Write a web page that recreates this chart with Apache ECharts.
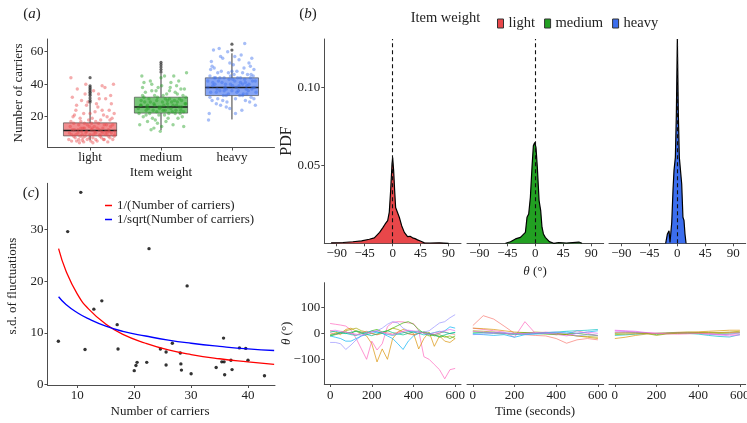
<!DOCTYPE html>
<html>
<head>
<meta charset="UTF-8">
<title>Item weight, carriers and angle fluctuations</title>
<script src="https://cdn.jsdelivr.net/npm/echarts@6/dist/echarts.min.js"></script>
<style>
    html, body { margin: 0; padding: 0; background: #fff; }
    #chart { width: 747px; height: 423px; }
</style>
</head>
<body>
<div id="chart"></div>
<script>
// ---- (a) number of carriers per item weight ----
const weights = ['light', 'medium', 'heavy'];
const weightColors = ['#E8474A', '#22A022', '#3C6EEE'];
const boxLow  = [5.5, 11.7, 18.3];
const boxQ1   = [8.2, 22.2, 33];
const boxMed  = [11.5, 26, 38];
const boxQ3   = [16.2, 32, 43.9];
const boxHigh = [28.2, 46.7, 59];
const lightOut  = [29, 30, 31.5, 33, 34, 35, 36, 37, 38, 39, 44];
const mediumOut = [47.5, 49, 50.5, 52, 53.4];
const heavyOut  = [61, 64.6];
const lightPts = [[0.70,6],[0.74,9],[0.78,12],[0.81,5],[0.84,15],[0.86,8],[0.88,11],[0.90,7],[0.92,13],[0.94,10],
    [0.96,6],[0.98,18],[1.00,9],[1.02,12],[1.04,7],[1.06,14],[1.08,10],[1.10,5],[1.12,16],[1.14,8],[1.16,11],
    [1.18,13],[1.20,6],[1.22,9],[1.24,20],[1.26,12],[1.28,7],[1.30,10],[1.32,15],[1.34,8],[0.72,14],[0.76,20],
    [0.80,24],[0.83,10],[0.87,17],[0.91,22],[0.95,27],[0.99,14],[1.03,19],[1.07,23],[1.11,26],[1.15,18],[1.19,21],
    [1.23,15],[1.27,24],[1.31,19],[1.35,11],[0.75,32],[0.82,37],[0.88,30],[0.93,34],[1.05,36],[1.13,31],[1.21,38],
    [1.29,33],[0.73,44],[1.33,40],[0.97,29],[1.09,28],[1.17,39],[0.85,4],[1.01,5],[1.25,4.5],[0.79,7],[1.19,6],
    [0.90,13],[1.06,11],[1.14,9],[0.96,15],[1.24,10],[0.77,8],[0.89,9],[1.03,13],[1.27,11],[0.83,12],
    [0.71,10],[0.74,5],[0.77,16],[0.80,9],[0.84,6],[0.87,13],[0.91,4.5],[0.93,8],[0.95,11],[0.99,7],[1.02,16],
    [1.05,9],[1.08,6],[1.10,13],[1.13,12],[1.16,7],[1.20,15],[1.22,11],[1.26,8],[1.29,14],[1.32,6],[1.35,9],
    [0.73,17],[0.78,21],[0.86,19],[0.92,16],[1.00,22],[1.08,17],[1.17,24],[1.28,18],[1.34,22],[0.81,27],[1.12,34],
    [1.30,28],[0.94,40],[1.22,31],[0.89,5.5],[1.04,4],[1.18,10],[0.75,12]];
const mediumPts = [[1.68,25],[1.72,30],[1.75,20],[1.78,35],[1.81,27],[1.84,22],[1.87,40],[1.90,28],[1.92,18],[1.95,32],
    [1.98,25],[2.00,44],[2.02,29],[2.05,21],[2.08,34],[2.10,26],[2.13,38],[2.16,23],[2.19,30],[2.22,27],[2.25,42],
    [2.28,24],[2.31,33],[2.34,28],[2.36,47],[1.70,15],[1.74,38],[1.79,24],[1.83,31],[1.88,19],[1.93,36],[1.97,26],
    [2.01,14],[2.06,31],[2.11,22],[2.15,29],[2.20,35],[2.24,19],[2.29,26],[2.33,37],[1.73,45],[1.86,12],[1.99,11],
    [2.07,17],[2.18,45],[2.30,20],[1.77,29],[1.91,33],[2.04,27],[2.12,36],[2.26,31],[1.80,26],[1.94,23],[2.09,30],
    [2.21,24],[2.35,28],[1.85,42],[2.17,15],[1.96,38],[2.27,22],[1.71,27],[2.03,24],[2.23,29],
    [1.69,22],[1.72,27],[1.76,32],[1.79,21],[1.82,25],[1.85,29],[1.89,24],[1.91,27],[1.94,30],[1.97,21],[2.00,26],
    [2.03,33],[2.06,24],[2.09,28],[2.12,31],[2.14,25],[2.17,27],[2.20,22],[2.23,34],[2.26,26],[2.29,30],[2.32,23],
    [2.35,32],[1.74,33],[1.87,36],[2.01,39],[2.14,41],[2.28,37],[1.81,17],[2.10,19],[2.32,14],[1.95,16],[1.76,41],
    [2.22,39],[2.05,45],[1.90,13]];
const heavyPts = [[2.66,38],[2.69,45],[2.72,30],[2.75,50],[2.78,35],[2.81,42],[2.84,27],[2.87,56],[2.90,38],[2.92,33],
    [2.95,47],[2.98,40],[3.00,36],[3.02,52],[3.05,31],[3.08,44],[3.10,39],[3.13,58],[3.16,34],[3.19,41],[3.22,46],
    [3.25,29],[3.28,37],[3.31,49],[3.34,35],[2.68,22],[2.71,54],[2.76,40],[2.80,31],[2.85,48],[2.89,36],[2.94,60],
    [2.97,25],[3.01,43],[3.06,38],[3.11,33],[3.15,47],[3.20,37],[3.24,53],[3.29,42],[3.33,27],[2.67,18],[2.74,61],
    [2.83,44],[2.91,40],[3.04,57],[3.14,24],[3.21,39],[3.30,45],[2.79,37],[2.88,33],[2.96,43],[3.07,35],[3.17,50],
    [3.27,32],[2.73,41],[2.93,29],[3.03,46],[3.12,41],[3.23,36],[3.32,38],[3.18,65],[2.70,49],[3.26,44],
    [2.66,42],[2.70,35],[2.73,39],[2.77,44],[2.80,47],[2.83,36],[2.86,41],[2.89,44],[2.92,37],[2.95,34],[2.98,45],
    [3.01,39],[3.04,42],[3.07,48],[3.09,36],[3.12,44],[3.15,40],[3.18,43],[3.21,34],[3.24,40],[3.27,46],[3.30,38],
    [3.33,42],[2.72,51],[2.84,57],[2.97,53],[3.10,55],[3.26,51],[2.78,28],[2.92,26],[3.05,22],[3.19,30],[3.31,31],
    [2.69,32],[2.87,30],[3.15,33],[2.82,62],[3.28,56],[3.00,48],[2.75,44]];

// ---- (c) s.d. of fluctuations vs number of carriers ----
const carriers = [6.66, 8.3, 10.6, 11.35, 12.9, 14.3, 17.0, 17.15, 20.0, 20.3, 20.5, 22.2, 22.6, 24.6, 25.6, 25.6, 26.7,
    28.1, 28.2, 28.3, 29.3, 30.0, 34.4, 35.4, 35.8, 35.7, 35.9, 37.0, 37.2, 38.5, 39.6, 40.0, 42.9];
const sdFluct = [8.4, 29.6, 37.2, 6.8, 14.6, 16.2, 11.6, 6.9, 2.7, 3.7, 4.3, 4.3, 26.3, 6.9, 6.3, 3.8, 8.0,
    6.1, 4.0, 2.8, 19.1, 2.1, 3.3, 4.4, 4.4, 9.0, 1.9, 4.7, 2.9, 7.1, 7.0, 4.7, 1.7];
const curveN       = [6.7, 8, 10, 12, 15, 18, 22, 26, 30, 35, 40, 44.6];
const curveInv     = [26.3, 22.0, 17.5, 14.6, 11.7, 9.7, 8.0, 6.7, 5.8, 5.0, 4.4, 3.9];
const curveInvSqrt = [17.0, 15.5, 13.9, 12.7, 11.3, 10.3, 9.4, 8.6, 8.0, 7.4, 6.9, 6.6];

// ---- (b) angle densities ----
const thetaLight = [-99, -80, -64, -50, -37.5, -29.5, -21, -16, -12, -8, -5.4, -3.2, -1, 0, 1.6, 3.2, 4.8, 6.5, 8,
    10.7, 14.5, 18.8, 24, 28, 32, 36, 40, 45.5, 51, 60, 75, 90];
const pdfLight = [0.0003, 0.0005, 0.001, 0.0015, 0.0026, 0.0035, 0.007, 0.0099, 0.0124, 0.0146, 0.02, 0.034, 0.051,
    0.055, 0.0466, 0.034, 0.023, 0.024, 0.022, 0.0167, 0.0113, 0.007, 0.0043, 0.0045, 0.0035, 0.003, 0.0022, 0.0013,
    0.0003, 0.0002, 0.0003, 0];
const thetaMedium = [-48, -40, -32, -24, -16, -13.4, -10.7, -8, -5.4, -3.2, -1, 1, 3.2, 6, 8.6, 10.7, 13, 16, 22.5,
    29.5, 37.5, 50, 70, 75];
const pdfMedium = [0, 0.001, 0.0028, 0.0038, 0.007, 0.0167, 0.0188, 0.0295, 0.0487, 0.0626, 0.0647, 0.0615, 0.0487,
    0.0274, 0.021, 0.0103, 0.006, 0.0038, 0.0011, 0, 0.0005, 0.0002, 0.0008, 0];
const thetaHeavy = [-18.8, -16, -13.4, -11.8, -9, -7, -5.4, -3.2, -1.6, 0, 1.6, 3.2, 5.4, 7, 9, 10.7, 12.3, 14];
const pdfHeavy = [0, 0.006, 0.008, 0.0006, 0.0135, 0.034, 0.0466, 0.0551, 0.083, 0.131, 0.083, 0.0551, 0.0551,
    0.038, 0.0167, 0.0146, 0.006, 0];

// ---- (b) angle time series ----
const timeFine = [0, 25, 50, 75, 100, 125, 150, 175, 200, 225, 250, 275, 300, 325, 350, 375, 400, 425, 450, 475,
    500, 525, 550, 575, 600];
const timeCoarse = [0, 50, 100, 150, 200, 250, 300, 350, 400, 450, 500, 550, 600];
const lightRuns = [
    ['#FF62BC', [38, 35, 32, 28, 13, -20, -60, -100, -30, -64, -40, 26, 42, 45, 44, 40, 38, 10, -90, -100, -120, -140, -175, -140, -135]],
    ['#D89000', [10, 5, -5, 15, 20, 8, 0, -10, -40, -110, -60, -100, -20, 5, 15, 10, 0, -60, -20, 5, -50, -10, -30, -35, -20]],
    ['#9590FF', [-35, -35, -40, -62, -45, -25, -10, 0, 5, 10, 20, 35, 45, 40, 20, 10, 5, 0, 5, 10, 25, 40, 45, 60, 72]],
    ['#00B0F6', [-10, -15, -20, -30, -30, -20, -10, -5, 0, 5, 0, -10, -20, -40, -62, -30, -10, 0, 5, 0, -5, 0, 10, 25, 20]],
    ['#39B600', [-10, -5, 0, 5, 0, 10, 5, 0, 10, 15, 5, 10, 20, 30, 40, 45, 35, 15, 0, -10, -5, -15, -10, -20, -10]],
    ['#A3A500', [-5, 0, 5, 10, 15, 20, 10, 5, 0, -5, 0, 10, 20, 15, 5, 0, -5, 0, 5, 0, -10, -5, -15, -10, -20]],
    ['#F8766D', [2, -4, 1, 6, -2, -7, 3, 8, -1, -6, 4, 2, -3, 5, 7, -2, -6, 1, 4, -3, -5, 2, 6, -1, -4]],
    ['#00BFC4', [5, 8, 3, 0, -5, -8, -2, 4, 9, 6, 0, -4, -8, -3, 2, 7, 5, 0, -6, -2, 3, 8, 4, -1, 3]],
    ['#00BF7D', [-8, -3, 2, -1, 4, 8, 2, -4, -9, -2, 5, 10, 3, -2, -6, 0, 6, 9, 2, -3, -8, -12, -6, 0, 4]],
    ['#E76BF3', [10, 12, 8, 5, 0, -3, -8, 0, 6, 10, 4, -2, -6, 0, 8, 12, 10, 6, 0, -4, 2, 6, 10, 15, 10]]
];
const mediumRuns = [
    ['#F8766D', [30, 68, 55, 28, 0, -5, -8, -10, -20, -38, -25, -20, -25]],
    ['#FF62BC', [20, 15, 10, 5, -15, 45, 0, 5, 0, -5, 10, 0, -10]],
    ['#D89000', [20, 18, 15, 10, 5, 3, 0, 0, -5, -5, -10, -15, -20]],
    ['#A3A500', [10, 8, 5, 0, -3, 0, 5, 3, 0, -5, -10, -12, -15]],
    ['#39B600', [5, 3, 0, -2, 0, 3, 0, -3, -5, -2, 0, -5, -8]],
    ['#00BFC4', [0, 2, 4, 0, -5, -2, 0, 3, 5, 8, 10, 12, 15]],
    ['#00B0F6', [-3, -5, -8, -5, -15, -5, -3, 0, 2, 5, 0, 5, 10]],
    ['#9590FF', [-5, -3, 0, 3, 0, -3, 0, 3, 5, 0, -10, -5, -8]],
    ['#E76BF3', [8, 5, 3, 0, -2, 0, 3, 0, -3, -10, 0, 5, 0]]
];
const heavyRuns = [
    ['#D89000', [-20, -15, -8, -3, 0, 2, 4, 5, 6, 8, 10, 12, 12]],
    ['#FF62BC', [10, 8, 5, 2, 0, -2, -3, -2, 0, -3, -5, -4, -2]],
    ['#00BFC4', [-8, -6, -3, -1, 0, 1, 2, 0, -3, -8, -12, -14, -5]],
    ['#39B600', [0, 2, 3, 1, -5, 0, 3, 4, 3, 2, 0, 1, 3]],
    ['#9590FF', [5, 6, 4, 2, -2, -1, 0, 1, 0, -4, -6, -3, 2]],
    ['#E76BF3', [12, 10, 8, 3, 0, -1, 0, 2, 3, 0, -5, -10, -6]],
    ['#F8766D', [3, 2, 1, 0, 0, 1, 2, 1, 0, 1, 2, 3, 5]],
    ['#A3A500', [-5, -3, -2, 0, -8, -2, 0, 2, 3, 4, 3, 5, 8]]
];

const FONT = '"Liberation Serif", "Times New Roman", serif';
const INK = '#222';
const AXIS = '#4d4d4d';
const minus = v => (v < 0 ? '\u2212' + Math.abs(v) : String(v));
const zip = (xs, ys) => xs.map((x, i) => [x, ys[i]]);

function axis(gi, min, max, ticks, fmt, visible, margin) {
    return {
        type: 'value', gridIndex: gi, min: min, max: max,
        splitLine: { show: false },
        axisLine: { show: visible, onZero: false, lineStyle: { color: AXIS, width: 1 } },
        axisTick: { show: visible, length: 3, customValues: ticks, lineStyle: { color: AXIS, width: 1 } },
        axisLabel: {
            show: visible, customValues: ticks, formatter: fmt, margin: margin || 4,
            fontFamily: FONT, fontSize: 13, color: INK
        }
    };
}

function label(text, x, y, size, vertical) {
    return {
        type: 'text', x: x, y: y, rotation: vertical ? Math.PI / 2 : 0,
        style: {
            text: text, fontFamily: FONT, fontSize: size, fill: INK,
            align: 'center', verticalAlign: 'middle', textAlign: 'center', textVerticalAlign: 'middle',
            rich: { i: { fontStyle: 'italic', fontFamily: FONT, fontSize: size, fill: INK } }
        }
    };
}

const facetLeft = [324.3, 467, 609];
const grids = [
    { left: 47.5, top: 39, width: 227, height: 108.5 },
    { left: 47.5, top: 183.3, width: 227.5, height: 201.7 }
];
facetLeft.forEach(l => grids.push({ left: l, top: 39, width: 136.7, height: 204.3 }));
facetLeft.forEach(l => grids.push({ left: l, top: 282.7, width: 136.7, height: 101.3 }));
grids.forEach(g => { g.containLabel = false; g.outerBoundsMode = 'none'; });

const xAxes = [
    axis(0, 0.4, 3.6, [1, 2, 3], v => weights[v - 1], true),
    axis(1, 4.75, 44.75, [10, 20, 30, 40], String, true)
];
const yAxes = [
    axis(0, 1.05, 67.8, [20, 40, 60], String, true),
    axis(1, -0.08, 38.95, [0, 10, 20, 30], String, true)
];
[2, 3, 4].forEach((gi, k) => {
    xAxes.push(axis(gi, -110, 110, [-90, -45, 0, 45, 90], minus, true));
    yAxes.push(axis(gi, 0, 0.131, [0.05, 0.10], v => v.toFixed(2), k === 0));
});
[5, 6, 7].forEach((gi, k) => {
    xAxes.push(axis(gi, -28, 628, [0, 200, 400, 600], String, true, 5));
    yAxes.push(axis(gi, -195, 195, [-100, 0, 100], minus, k === 0));
});

const series = [];

// (a) jittered points, boxes, outliers
[lightPts, mediumPts, heavyPts].forEach((pts, i) => {
    series.push({
        type: 'scatter', xAxisIndex: 0, yAxisIndex: 0, data: pts, symbolSize: 3.4, silent: true,
        itemStyle: { color: weightColors[i], opacity: 0.45 }
    });
});
series.push({
    type: 'custom', xAxisIndex: 0, yAxisIndex: 0, silent: true,
    data: weights.map((w, i) => [i + 1, boxLow[i], boxQ1[i], boxMed[i], boxQ3[i], boxHigh[i]]),
    renderItem: function (params, api) {
        const x = api.value(0);
        const lo = api.coord([x, api.value(1)]);
        const q1 = api.coord([x, api.value(2)]);
        const q3 = api.coord([x, api.value(4)]);
        const hi = api.coord([x, api.value(5)]);
        const tl = api.coord([x - 0.375, api.value(4)]);
        const br = api.coord([x + 0.375, api.value(2)]);
        const mL = api.coord([x - 0.375, api.value(3)]);
        const mR = api.coord([x + 0.375, api.value(3)]);
        const stroke = { stroke: '#3a3a3a', lineWidth: 1 };
        return {
            type: 'group', children: [
                { type: 'line', shape: { x1: hi[0], y1: hi[1], x2: q3[0], y2: q3[1] }, style: stroke },
                { type: 'line', shape: { x1: q1[0], y1: q1[1], x2: lo[0], y2: lo[1] }, style: stroke },
                {
                    type: 'rect', shape: { x: tl[0], y: tl[1], width: br[0] - tl[0], height: br[1] - tl[1] },
                    style: { fill: weightColors[params.dataIndex], opacity: 0.62, stroke: '#444', lineWidth: 1 }
                },
                { type: 'line', shape: { x1: mL[0], y1: mL[1], x2: mR[0], y2: mR[1] }, style: { stroke: '#1a1a1a', lineWidth: 1.6 } }
            ]
        };
    }
});
[lightOut, mediumOut, heavyOut].forEach((ys, i) => {
    series.push({
        type: 'scatter', xAxisIndex: 0, yAxisIndex: 0, silent: true, symbolSize: 3.2,
        data: ys.map(y => [i + 1, y]), itemStyle: { color: '#333', opacity: 0.75 }
    });
});

// (c) scatter and the two reference curves
series.push({
    type: 'scatter', xAxisIndex: 1, yAxisIndex: 1, silent: true, symbolSize: 3.4,
    data: zip(carriers, sdFluct), itemStyle: { color: '#000' }
});
series.push({
    type: 'line', name: '1/(Number of carriers)', xAxisIndex: 1, yAxisIndex: 1, smooth: true,
    symbol: 'none', data: zip(curveN, curveInv), lineStyle: { color: '#FF0000', width: 1.3 },
    itemStyle: { color: '#FF0000' }
});
series.push({
    type: 'line', name: '1/sqrt(Number of carriers)', xAxisIndex: 1, yAxisIndex: 1, smooth: true,
    symbol: 'none', data: zip(curveN, curveInvSqrt), lineStyle: { color: '#0000FF', width: 1.3 },
    itemStyle: { color: '#0000FF' }
});

// (b) densities
[[thetaLight, pdfLight], [thetaMedium, pdfMedium], [thetaHeavy, pdfHeavy]].forEach((d, i) => {
    series.push({
        type: 'line', name: weights[i], xAxisIndex: 2 + i, yAxisIndex: 2 + i, symbol: 'none', silent: true,
        data: zip(d[0], d[1]),
        lineStyle: { color: '#000', width: 1.2 },
        itemStyle: { color: weightColors[i] },
        areaStyle: { color: weightColors[i], opacity: 1 },
        markLine: {
            silent: true, symbol: 'none', label: { show: false },
            lineStyle: { type: [4, 3], color: '#111', width: 1.1 },
            data: [{ xAxis: 0 }]
        }
    });
});

// (b) time series
[lightRuns, mediumRuns, heavyRuns].forEach((runs, k) => {
    const t = k === 0 ? timeFine : timeCoarse;
    runs.forEach(r => {
        series.push({
            type: 'line', xAxisIndex: 5 + k, yAxisIndex: 5 + k, symbol: 'none', silent: true,
            data: zip(t, r[1]), lineStyle: { color: r[0], width: 0.8, opacity: 0.85 }
        });
    });
});

const chart = echarts.init(document.getElementById('chart'), null, { renderer: 'canvas' });
chart.setOption({
    backgroundColor: '#fff',
    animation: false,
    grid: grids,
    xAxis: xAxes,
    yAxis: yAxes,
    legend: [
        {
            data: weights.map((w, i) => ({
                name: w, icon: 'rect',
                itemStyle: { color: weightColors[i], borderColor: '#333', borderWidth: 1 }
            })),
            left: 492, top: 11, itemWidth: 6, itemHeight: 9, itemGap: 9, selectedMode: false,
            textStyle: { fontFamily: FONT, fontSize: 14.5, color: INK, lineHeight: 15 }
        },
        {
            data: ['1/(Number of carriers)', '1/sqrt(Number of carriers)'],
            orient: 'vertical', left: 100, top: 194, icon: 'rect', itemWidth: 7, itemHeight: 1.5,
            itemGap: 1, selectedMode: false,
            textStyle: { fontFamily: FONT, fontSize: 13, color: INK, lineHeight: 13 }
        }
    ],
    graphic: [
        label('({i|a})', 32, 14, 15),
        label('({i|b})', 308, 14, 15),
        label('({i|c})', 31, 193, 15),
        label('Item weight', 445.5, 18.5, 14.5),
        label('Number of carriers', 19, 93, 13, true),
        label('Item weight', 161, 173, 13),
        label('s.d. of fluctuations', 12.5, 286, 13, true),
        label('Number of carriers', 160, 412, 13),
        label('PDF', 287, 141, 16, true),
        label('{i|\u03B8} (\u00B0)', 535, 271.7, 13),
        label('{i|\u03B8} (\u00B0)', 287, 333.3, 13, true),
        label('Time (seconds)', 535, 411.7, 13)
    ],
    series: series
});
</script>
</body>
</html>
